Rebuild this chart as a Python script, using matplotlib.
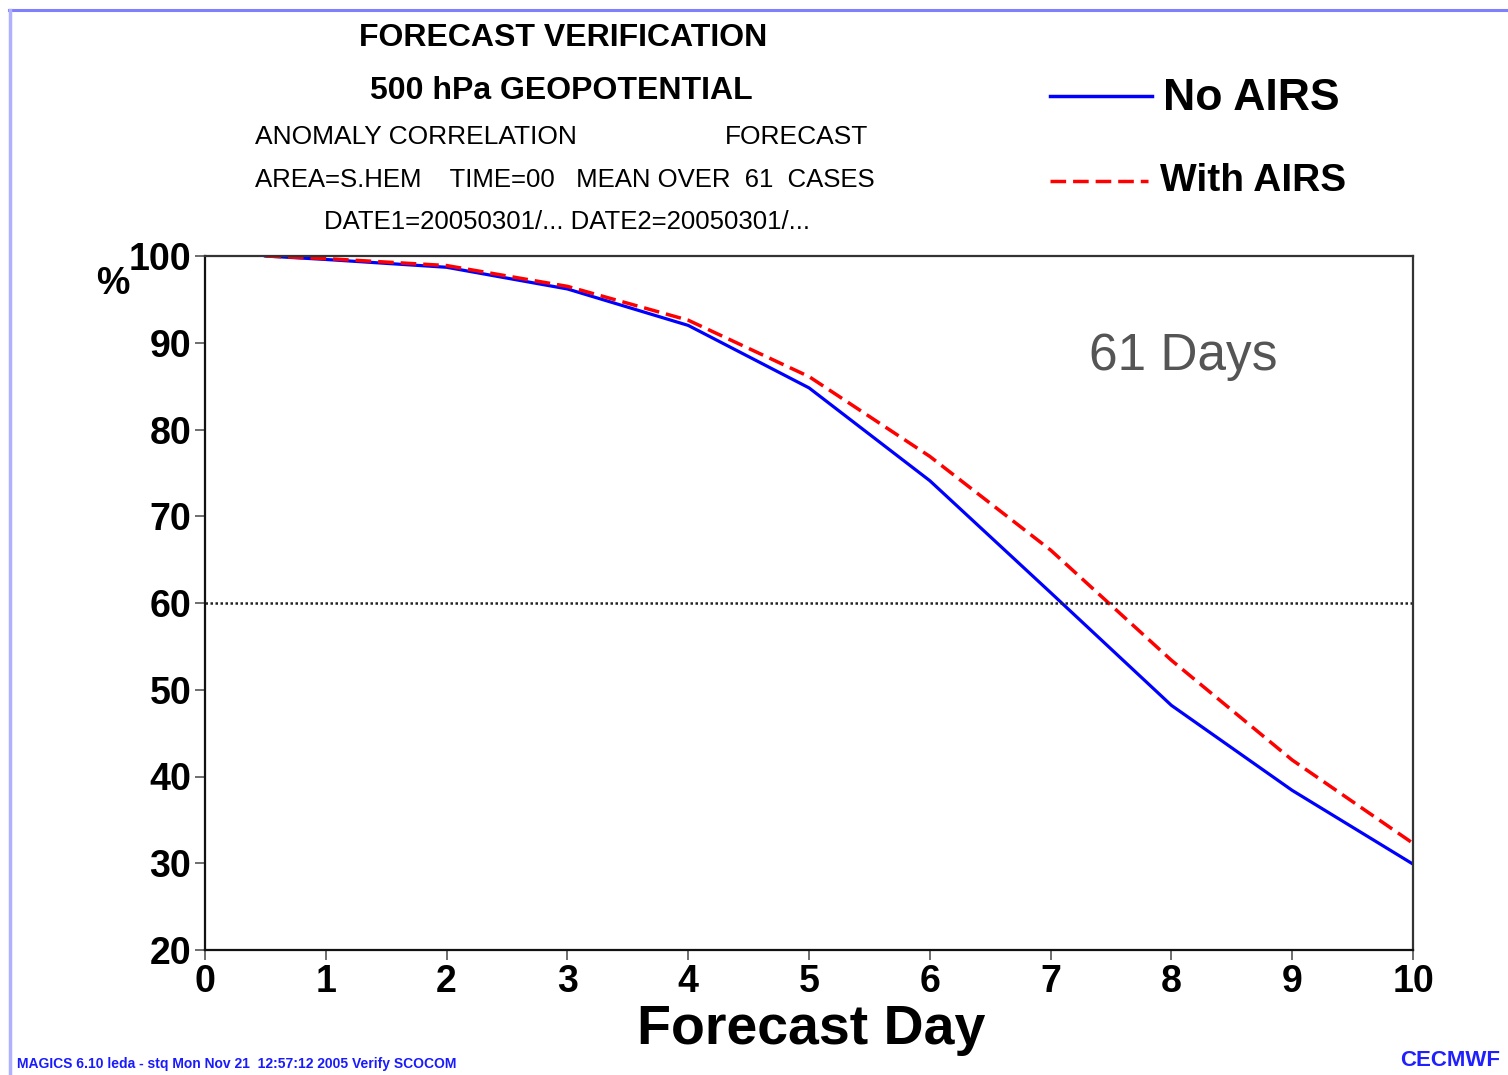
import matplotlib
matplotlib.use("Agg")
import matplotlib.pyplot as plt
from matplotlib.lines import Line2D

plt.rcParams['font.family'] = ['Liberation Sans', 'DejaVu Sans']

days = [0.5, 1, 2, 3, 4, 5, 6, 7, 8, 9, 10]
no_airs = [100.0, 99.6, 98.7, 96.2, 92.0, 84.8, 74.1, 61.2, 48.2, 38.4, 29.9]
with_airs = [100.0, 99.7, 98.9, 96.5, 92.6, 86.1, 76.9, 66.1, 53.4, 41.9, 32.3]
xticks = list(range(0, 11))
yticks = list(range(20, 101, 10))
threshold = 60

W, H = 1508, 1075
fig = plt.figure(figsize=(W / 100, H / 100), dpi=100)

def fx(px):
    return px / W

def fy(py):
    return 1 - py / H

ax = fig.add_axes([fx(205), fy(950), fx(1413) - fx(205), fy(256) - fy(950)])
ax.plot(days, no_airs, color='#0000ff', lw=2.3, solid_joinstyle='round')
ax.plot(days, with_airs, color='#ff0000', lw=2.5, dashes=(4.5, 2.0))
ax.axhline(threshold, color='#222222', lw=1.8, ls=(0, (1, 1)))
ax.set_xlim(0, 10)
ax.set_ylim(20, 100)
ax.set_xticks(xticks)
ax.set_yticks(yticks)
ax.tick_params(direction='out', length=7, width=1.2, color='#555555',
               labelsize=27, pad=3)
for lab in ax.get_xticklabels() + ax.get_yticklabels():
    lab.set_fontweight('bold')
for s in ['left', 'bottom']:
    ax.spines[s].set_color('#111111')
    ax.spines[s].set_linewidth(1.6)
for s in ['top', 'right']:
    ax.spines[s].set_color('#333333')
    ax.spines[s].set_linewidth(1.6)

ax.text(0.81, 0.855, '61 Days', transform=ax.transAxes, fontsize=37,
        color='#555555', ha='center', va='center')

fig.text(fx(113), fy(284), '%', fontsize=27, fontweight='bold', ha='center', va='center')
fig.text(fx(811), fy(1030), 'Forecast Day', fontsize=40, fontweight='bold',
         ha='center', va='center')

# titles
fig.text(fx(563), fy(38), 'FORECAST VERIFICATION', fontsize=23, fontweight='bold',
         ha='center', va='center')
fig.text(fx(561), fy(91), '500 hPa GEOPOTENTIAL', fontsize=23, fontweight='bold',
         ha='center', va='center')
fig.text(fx(255), fy(137), 'ANOMALY CORRELATION', fontsize=19, ha='left', va='center')
fig.text(fx(868), fy(137), 'FORECAST', fontsize=19, ha='right', va='center')
fig.text(fx(255), fy(180), 'AREA=S.HEM    TIME=00   MEAN OVER  61  CASES', fontsize=18.5,
         ha='left', va='center')
fig.text(fx(567), fy(222), 'DATE1=20050301/... DATE2=20050301/...', fontsize=18.5,
         ha='center', va='center')

# legend
fig.add_artist(Line2D([fx(1050), fx(1152)], [fy(96), fy(96)], color='#0000ff', lw=2.5))
fig.add_artist(Line2D([fx(1050), fx(1148)], [fy(181), fy(181)], color='#ff0000', lw=2.5,
                      dashes=(4.5, 2.0)))
fig.text(fx(1163), fy(99), 'No AIRS', fontsize=32, fontweight='bold', ha='left', va='center')
fig.text(fx(1160), fy(181), 'With AIRS', fontsize=28, fontweight='bold', ha='left', va='center')

# frame lines
fig.add_artist(Line2D([fx(9), 1], [fy(10), fy(10)], color='#8080ff', lw=2.2))
fig.add_artist(Line2D([fx(10), fx(10)], [0, fy(10)], color='#b0b0ff', lw=2.5))

# footer
fig.text(fx(17), fy(1064), 'MAGICS 6.10 leda - stq Mon Nov 21  12:57:12 2005 Verify SCOCOM',
         fontsize=10, fontweight='bold', color='#1a1aff', ha='left', va='center')
fig.text(fx(1400), fy(1060), 'CECMWF', fontsize=16, fontweight='bold', color='#2020ff',
         ha='left', va='center')

fig.savefig('out.png', dpi=100, facecolor='white')
